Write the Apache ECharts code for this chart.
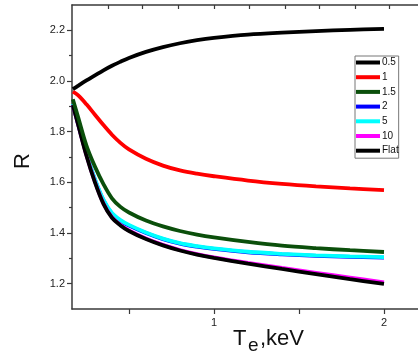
<!DOCTYPE html>
<html>
<head>
<meta charset="utf-8" />
<script src="https://cdn.jsdelivr.net/npm/echarts@6/dist/echarts.min.js"></script>
<title>R vs Te</title>
<style type="text/css">
* {margin:0; padding:0;}
body {background:#fff;}
#chart {width:418px; height:361px;}
</style>
</head>
<body>
<div id="chart"></div>
<script>
// Te, keV
var te = [0.17, 0.2, 0.25, 0.3, 0.35, 0.4, 0.45, 0.5, 0.6, 0.7, 0.8, 0.9, 1.0, 1.2, 1.4, 1.6, 1.8, 2.0];
var r05   = [1.905, 1.83, 1.705, 1.6, 1.515, 1.46, 1.43, 1.408, 1.376, 1.351, 1.331, 1.315, 1.302, 1.279, 1.258, 1.238, 1.218, 1.199];
var r1    = [1.958, 1.944, 1.908, 1.867, 1.826, 1.788, 1.756, 1.73, 1.693, 1.666, 1.647, 1.634, 1.624, 1.607, 1.594, 1.584, 1.576, 1.569];
var r15   = [1.928, 1.86, 1.745, 1.662, 1.593, 1.537, 1.503, 1.481, 1.449, 1.426, 1.408, 1.394, 1.383, 1.365, 1.35, 1.34, 1.332, 1.325];
var r2    = [1.908, 1.832, 1.712, 1.61, 1.529, 1.476, 1.448, 1.429, 1.4, 1.376, 1.358, 1.346, 1.337, 1.324, 1.316, 1.31, 1.306, 1.303];
var r5    = [1.91, 1.835, 1.715, 1.613, 1.532, 1.479, 1.451, 1.432, 1.402, 1.378, 1.36, 1.348, 1.339, 1.326, 1.318, 1.312, 1.308, 1.305];
var r10   = [1.906, 1.832, 1.707, 1.602, 1.517, 1.462, 1.432, 1.41, 1.378, 1.353, 1.333, 1.317, 1.304, 1.282, 1.262, 1.243, 1.224, 1.205];
var rFlat = [1.968, 1.981, 2.002, 2.022, 2.042, 2.06, 2.076, 2.091, 2.115, 2.134, 2.149, 2.161, 2.17, 2.183, 2.191, 2.197, 2.202, 2.206];

var legendNames = ['0.5', '1', '1.5', '2', '5', '10', 'Flat'];
var yLabels = [1.2, 1.4, 1.6, 1.8, 2.0, 2.2];
var yMinor = [1.3, 1.5, 1.7, 1.9, 2.1];
var xLabels = [1, 2];
var xTicks = [0.5, 1, 1.5, 2];
var topTicks = [0.38, 0.58, 0.79, 1.0, 1.21, 1.42, 1.62, 1.83, 2.03];

function pairs(ys) {
	return te.map(function (t, i) { return [t, ys[i]]; });
}
function line(name, ys, color) {
	return {
		name: name, type: 'line', data: pairs(ys),
		smooth: 0.35, showSymbol: false, symbol: 'none',
		lineStyle: {color: color, width: 3.8},
		itemStyle: {color: color}
	};
}

var chart = echarts.init(document.getElementById('chart'));
var axisCol = '#3a3a3a';
chart.setOption({
	animation: false,
	grid: {left: 72, right: 0, top: 5, bottom: 52},
	legend: {
		data: legendNames,
		orient: 'vertical',
		left: 355, top: 56,
		icon: 'rect',
		itemWidth: 24, itemHeight: 4,
		itemGap: 3.7,
		padding: [1, 0, 2, 1],
		borderColor: '#777', borderWidth: 1,
		backgroundColor: '#fff',
		textStyle: {fontSize: 10, lineHeight: 11, color: '#111', fontFamily: 'Liberation Sans', padding: [0, 0, 0, -3]}
	},
	xAxis: [{
		type: 'value', min: 0.165, max: 2.2,
		axisLine: {lineStyle: {color: axisCol, width: 1.5}},
		axisTick: {customValues: xTicks, length: 5, lineStyle: {color: axisCol, width: 1.2}},
		axisLabel: {customValues: xLabels, fontSize: 11, color: '#222', margin: 8, fontFamily: 'Liberation Sans'},
		splitLine: {show: false}
	}, {
		type: 'value', min: 0.165, max: 2.2, position: 'top',
		axisLine: {lineStyle: {color: axisCol, width: 1.5}},
		axisTick: {customValues: topTicks, inside: true, length: 4, lineStyle: {color: axisCol, width: 1.2}},
		axisLabel: {show: false},
		splitLine: {show: false}
	}],
	yAxis: [{
		type: 'value', min: 1.1, max: 2.3,
		name: 'R', nameLocation: 'middle', nameGap: 38,
		nameTextStyle: {fontSize: 22, color: '#111', fontFamily: 'Liberation Sans', padding: [0, 8, 0, 0]},
		axisLine: {show: true, lineStyle: {color: axisCol, width: 1.5}},
		axisTick: {show: true, customValues: yLabels, length: 5, lineStyle: {color: axisCol, width: 1.2}},
		axisLabel: {customValues: yLabels, fontSize: 11, color: '#222', margin: 7, fontFamily: 'Liberation Sans',
			formatter: function (v) { return v.toFixed(1); }},
		splitLine: {show: false}
	}, {
		type: 'value', min: 1.1, max: 2.3, position: 'left',
		axisLine: {show: false},
		axisTick: {show: true, customValues: yMinor, length: 3, lineStyle: {color: axisCol, width: 1.2}},
		axisLabel: {show: false},
		splitLine: {show: false}
	}],
	graphic: [
		{type: 'text', left: 233, top: 328, style: {text: 'T', fontSize: 22, fill: '#111', fontFamily: 'Liberation Sans'}},
		{type: 'text', left: 248, top: 336, style: {text: 'e', fontSize: 19, fill: '#111', fontFamily: 'Liberation Sans'}},
		{type: 'text', left: 260, top: 328, style: {text: ',keV', fontSize: 22, fill: '#111', fontFamily: 'Liberation Sans'}}
	],
	series: [
		line('2', r2, '#0000ff'),
		line('5', r5, '#00ffff'),
		line('10', r10, '#ff00ff'),
		line('0.5', r05, '#000000'),
		line('1.5', r15, '#0b4f0b'),
		line('1', r1, '#ff0000'),
		line('Flat', rFlat, '#000000')
	]
});
</script>
</body>
</html>
